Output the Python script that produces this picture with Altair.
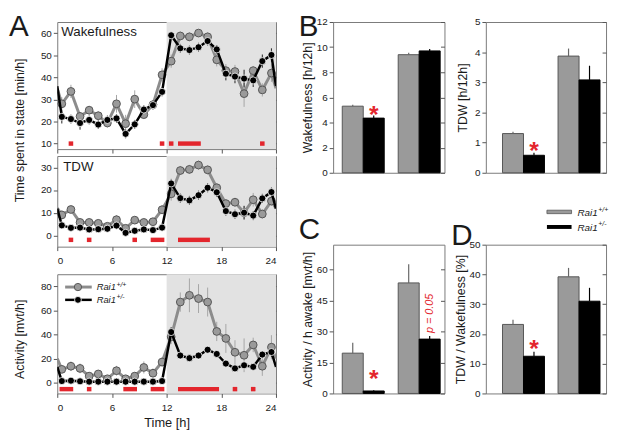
import altair as alt
import pandas as pd

FONT = "Liberation Sans"
RED = "#e3262d"
GRAY_FILL = "#9a9a9a"
GRAY_EDGE = "#555555"
GRAY_LINE = "#8c8c8c"
GRAY_ERR = "#a6a6a6"
SHADE = "#e2e2e2"
GENOS = ["Rai1+/+", "Rai1+/-"]
PHASES = ["Light", "Dark"]

# ---------------- time course data (panel A) ----------------
hours = [0.5, 1.5, 2.5, 3.5, 4.5, 5.5, 6.5, 7.5, 8.5, 9.5, 10.5, 11.5,
         12.5, 13.5, 14.5, 15.5, 16.5, 17.5, 18.5, 19.5, 20.5, 21.5, 22.5, 23.5]
line_edges = [0, 24]
x_ticks = [0, 6, 12, 18, 24]
shade_start = [12]
shade_end = [24]

wake_wt = [28, 33.6, 22.3, 25.1, 22.6, 19.3, 28, 19, 30.1, 23.1, 27.6, 41.1,
           47.3, 58.7, 58.3, 60, 58.3, 47.9, 43, 42.6, 32.6, 43, 34.3, 41.9]
wake_wt_sem = [3, 3, 2, 2, 2, 2, 4, 4, 4, 2, 2, 3,
               3, 2, 2, 1.5, 2, 3, 3, 3, 6, 2, 3, 4]
wake_het = [22.1, 21.1, 19.3, 20.7, 18.6, 20.7, 21.4, 14.4, 18.7, 25.4, 27.4, 33.4,
            59, 53.1, 52.3, 53.6, 56.4, 52.6, 41.6, 40.3, 39.4, 38.6, 47.3, 50.1]
wake_het_sem = [3, 2, 3, 2, 2, 2, 2, 2, 2, 2, 2, 2,
                1.5, 2, 2, 2, 2, 2, 3, 3, 4, 3, 3, 3]
wake_edge = [35, 36]          # value where the lines meet the 0 h / 24 h frame
wake_sig_start = [1.25, 11.25, 12.25, 13.25, 22.25]
wake_sig_end = [1.75, 11.75, 12.75, 15.75, 22.75]
wake_sig_level = 10

tdw_wt = [9, 11.4, 5.7, 5.7, 5.3, 4, 6.9, 3.1, 6.7, 5.7, 6, 11.3,
          18.3, 28.6, 29.1, 31, 28.9, 21, 14, 14.6, 10, 15.7, 9.4, 15.1]
tdw_wt_sem = [2, 1.5, 1, 1, 1, 1, 2, 1.5, 1.5, 1, 1, 2,
              3, 2, 2, 2, 2, 2, 2, 2, 3, 3, 2, 2]
tdw_het = [4.4, 3.3, 3.4, 2.6, 2.7, 2.9, 4.3, 1.1, 2, 2.6, 2.3, 3.4,
           22.9, 16.4, 15.4, 17.7, 21, 19, 10.7, 9.3, 10, 8.7, 16.3, 19.1]
tdw_het_sem = [1, 1, 1, 1, 1, 1, 1.5, 1, 1, 1, 1, 1,
               2, 2, 2, 2, 2, 2, 2, 2, 3, 2, 2, 2]
tdw_edge = [12, 11.8]
tdw_sig_start = [1.25, 3.25, 8.25, 10.25, 13.25]
tdw_sig_end = [1.75, 3.75, 8.75, 11.75, 16.75]
tdw_sig_level = -2

act_wt = [11, 13.6, 11.8, 5.4, 7.2, 3.2, 9.9, 3.2, 5.4, 12.6, 7.8, 17.1,
          38, 66.9, 72.5, 69.8, 66.9, 42.5, 36.7, 25.2, 22.7, 31.3, 13.6, 29.4]
act_wt_sem = [3, 4, 4, 3, 2, 2, 4, 3, 3, 5, 4, 4,
              6, 8, 14, 12, 12, 8, 12, 10, 14, 6, 8, 10]
act_het = [1.3, 1.6, 1.1, 0.8, 0.8, 0.8, 0.8, 0.8, 0.8, 0.8, 0.8, 1.3,
           42, 22.5, 20.3, 22.5, 27.3, 23.8, 15.8, 11.8, 14.4, 13.1, 23.3, 25.4]
act_het_sem = [1, 1, 1, 0.5, 0.5, 0.5, 0.5, 0.5, 0.5, 0.5, 0.5, 1,
               4, 2, 2, 2, 2, 2, 2, 2, 2, 2, 3, 4]
act_edge = [20, 13]
act_sig_start = [0.25, 3.25, 7.25, 10.25, 13.25, 19.25, 21.25]
act_sig_end = [1.75, 3.75, 8.75, 11.75, 17.75, 19.75, 21.75]
act_sig_level = -5.4

# ---------------- 12 h summary data (panels B, C, D) ----------------
wakeB_wt = [5.3, 9.4];   wakeB_wt_sem = [0.12, 0.16]
wakeB_het = [4.35, 9.7]; wakeB_het_sem = [0.2, 0.15]
tdwB_wt = [1.3, 3.87];   tdwB_wt_sem = [0.06, 0.25]
tdwB_het = [0.58, 3.08]; tdwB_het_sem = [0.08, 0.47]
actC_wt = [19.5, 53.5];  actC_wt_sem = [5.0, 9.0]
actC_het = [1.2, 26.3];  actC_het_sem = [0.4, 1.5]
ratD_wt = [23.2, 39.2];  ratD_wt_sem = [1.6, 3.0]
ratD_het = [12.5, 31.0]; ratD_het_sem = [1.5, 4.5]

one = pd.DataFrame({"k": [0]})


def txt(label, x, y, size, color="#1a1a1a", align="left", style="normal",
        weight="normal", angle=0, baseline="alphabetic"):
    return alt.Chart(one).mark_text(
        text=label, align=align, baseline=baseline, fontSize=size, font=FONT,
        color=color, fontStyle=style, fontWeight=weight, angle=angle
    ).encode(x=alt.value(x), y=alt.value(y))


def anchor(x1, x2, y1, y2):
    # invisible box that fixes the layout bounds of a panel
    return alt.Chart(one).mark_rect(fillOpacity=0, strokeOpacity=0).encode(
        x=alt.value(x1), x2=alt.value(x2), y=alt.value(y1), y2=alt.value(y2))


def rai_label(x, y, size, sup, sup_size):
    w = 2.056 * size
    return [txt("Rai1", x, y, size, style="italic"),
            txt(sup, x + w + 0.5, y - size * 0.42, sup_size, style="italic")]


def series_df(vals, sem):
    return pd.DataFrame({"hour": hours, "value": vals,
                         "lo": [v - s for v, s in zip(vals, sem)],
                         "hi": [v + s for v, s in zip(vals, sem)]})


def line_df(vals, edge):
    return pd.DataFrame({"hour": [line_edges[0]] + hours + [line_edges[1]],
                         "value": [edge] + vals + [edge]})


W_A = 222


def time_panel(wt, wt_sem, het, het_sem, edge, sig_s, sig_e, sig_lvl,
               ydomain, yticks, height, labels, xtitle, extra):
    xs = alt.Scale(domain=[0, 24], nice=False)
    ys = alt.Scale(domain=ydomain, nice=False, zero=False)
    xkw = dict(values=x_ticks, tickSize=4, labels=labels, labelPadding=5,
               labelFontSize=10, orient="bottom")
    if xtitle:
        xkw.update(title=xtitle, titlePadding=5, titleFontSize=13)
    else:
        xkw.update(title=None)
    xax = alt.Axis(**xkw)
    yax = alt.Axis(values=yticks, tickSize=4, labelPadding=2, labelFontSize=10,
                   orient="left", title=None)
    yax_r = alt.Axis(orient="right", values=yticks, tickSize=4, labels=False,
                     offset=-4, title=None)

    dwt, dhet = series_df(wt, wt_sem), series_df(het, het_sem)
    lwt, lhet = line_df(wt, edge[0]), line_df(het, edge[1])

    shade = alt.Chart(pd.DataFrame({"start": shade_start, "end": shade_end})).mark_rect(
        color=SHADE).encode(x=alt.X("start:Q", scale=xs, axis=None), x2="end:Q",
                            y=alt.value(0), y2=alt.value(height))

    def err(d, color):
        return alt.Chart(d).mark_rule(color=color, strokeWidth=1, clip=True).encode(
            x=alt.X("hour:Q", scale=xs, axis=None),
            y=alt.Y("lo:Q", scale=ys, axis=None), y2="hi:Q")

    # an invisible carrier layer for the axes (same data as the wild-type line)
    axes_layer = alt.Chart(lwt).mark_point(opacity=0, size=1).encode(
        x=alt.X("hour:Q", scale=xs, axis=xax), y=alt.Y("value:Q", scale=ys, axis=yax))
    line_wt = alt.Chart(lwt).mark_line(color=GRAY_LINE, strokeWidth=3, clip=True).encode(
        x=alt.X("hour:Q", scale=xs, axis=None), y=alt.Y("value:Q", scale=ys, axis=None))
    pts_wt = alt.Chart(dwt).mark_circle(size=62, fill=GRAY_FILL, stroke=GRAY_EDGE,
                                        strokeWidth=1, opacity=1).encode(
        x=alt.X("hour:Q", scale=xs, axis=None), y=alt.Y("value:Q", scale=ys, axis=None))
    line_het = alt.Chart(lhet).mark_line(color="black", strokeWidth=2.5, clip=True).encode(
        x=alt.X("hour:Q", scale=xs, axis=None), y=alt.Y("value:Q", scale=ys, axis=yax_r))
    pts_het = alt.Chart(dhet).mark_circle(size=52, fill="black", stroke="white",
                                         strokeWidth=0.8, opacity=1).encode(
        x=alt.X("hour:Q", scale=xs, axis=None), y=alt.Y("value:Q", scale=ys, axis=None))
    sig = alt.Chart(pd.DataFrame({"start": sig_s, "end": sig_e,
                                  "level": [sig_lvl] * len(sig_s)})).mark_rule(
        color=RED, strokeWidth=4.5, strokeCap="butt").encode(
        x=alt.X("start:Q", scale=xs, axis=None), x2="end:Q",
        y=alt.Y("level:Q", scale=ys, axis=None))

    layers = [axes_layer, shade, err(dwt, GRAY_ERR), err(dhet, "#222222"), line_wt,
              pts_wt, line_het, pts_het, sig] + extra
    return alt.layer(*layers).resolve_axis(x="independent", y="independent").properties(
        width=W_A, height=height)


def bar_panel(wt, wt_sem, het, het_sem, ydomain, yticks, ytitle, tpad, width, height,
              pin, pout, align, ast_dy, extra, pnote=False):
    rows = []
    for i, ph in enumerate(PHASES):
        rows.append({"phase": ph, "geno": GENOS[0], "value": wt[i], "top": wt[i] + wt_sem[i]})
        rows.append({"phase": ph, "geno": GENOS[1], "value": het[i], "top": het[i] + het_sem[i]})
    df = pd.DataFrame(rows)
    xs = alt.Scale(paddingInner=pin, paddingOuter=pout, align=align)
    xos = alt.Scale(domain=GENOS, paddingInner=0, paddingOuter=0)
    ys = alt.Scale(domain=ydomain, nice=False)
    xax = alt.Axis(title=None, labelAngle=0, ticks=False, labelFontSize=13,
                   labelPadding=9, labelColor="#1a1a1a")
    yax = alt.Axis(values=yticks, tickSize=4, labelPadding=2, title=ytitle,
                   titleFontSize=12.5, titlePadding=tpad)
    yax_r = alt.Axis(orient="right", values=yticks, tickSize=4, labels=False,
                     offset=-4, title=None)
    X = alt.X("phase:N", sort=PHASES, scale=xs, axis=xax)
    XN = alt.X("phase:N", sort=PHASES, scale=xs, axis=None)
    XO = alt.XOffset("geno:N", sort=GENOS, scale=xos)
    bars = alt.Chart(df).mark_bar(strokeWidth=1).encode(
        x=X, xOffset=XO, y=alt.Y("value:Q", scale=ys, axis=yax),
        fill=alt.Fill("geno:N", scale=alt.Scale(domain=GENOS, range=[GRAY_FILL, "#000000"]), legend=None),
        stroke=alt.Stroke("geno:N", scale=alt.Scale(domain=GENOS, range=[GRAY_EDGE, "#000000"]), legend=None))
    errs = alt.Chart(df).mark_rule(strokeWidth=1.2).encode(
        x=XN, xOffset=XO, y=alt.Y("value:Q", scale=ys, axis=yax_r), y2="top:Q",
        color=alt.Color("geno:N", scale=alt.Scale(domain=GENOS, range=["#666666", "#000000"]), legend=None))
    star = alt.Chart(df).transform_filter(
        (alt.datum.phase == "Light") & (alt.datum.geno == GENOS[1])).mark_text(
        text="*", fontSize=25, fontWeight="bold", color=RED, font=FONT,
        baseline="alphabetic", dy=ast_dy).encode(
        x=XN, xOffset=XO, y=alt.Y("top:Q", scale=ys, axis=None))
    layers = [bars, errs, star]
    if pnote:
        note = alt.Chart(df).transform_filter(
            (alt.datum.phase == "Dark") & (alt.datum.geno == GENOS[1])).mark_text(
            text="p = 0.05", fontSize=11, fontStyle="italic", color=RED, font=FONT,
            angle=270, align="center", baseline="middle").encode(
            x=XN, xOffset=XO, y=alt.Y("top:Q", scale=ys, axis=None),
            yOffset=alt.value(-23))
        layers.append(note)
    layers += extra
    return alt.layer(*layers).resolve_axis(y="independent").properties(
        width=width, height=height)


# ---------------- panel A ----------------
H_WAKE, H_TDW, H_ACT = 129, 92, 121
wake_extra = [anchor(-49, 230, -10, H_WAKE),
              txt("Wakefulness", 4, 14, 13.5),
              txt("A", -49, 14, 30),
              txt("Time spent in state [min/h]", -38, 110, 12.5, align="center",
                  angle=270, baseline="middle")]
tdw_extra = [anchor(-49, 230, 0, H_TDW + 22), txt("TDW", 6, 15, 13.5)]
leg_wt_line = alt.Chart(one).mark_rule(color=GRAY_LINE, strokeWidth=3).encode(
    x=alt.value(8), x2=alt.value(35), y=alt.value(13))
leg_wt_pt = alt.Chart(one).mark_circle(size=55, fill=GRAY_FILL, stroke=GRAY_EDGE,
                                       strokeWidth=1, opacity=1).encode(
    x=alt.value(21), y=alt.value(13))
leg_het_line = alt.Chart(one).mark_rule(color="black", strokeWidth=2.5).encode(
    x=alt.value(8), x2=alt.value(35), y=alt.value(26))
leg_het_pt = alt.Chart(one).mark_circle(size=48, fill="black", stroke="white",
                                        strokeWidth=0.8, opacity=1).encode(
    x=alt.value(21), y=alt.value(26))
act_extra = [anchor(-49, 230, 0, H_ACT + 42), leg_wt_line, leg_wt_pt, leg_het_line,
             leg_het_pt,
             txt("Activity [mvt/h]", -38, 66, 12.5, align="center", angle=270,
                 baseline="middle")] + \
    rai_label(40, 16.5, 9.5, "+/+", 7) + rai_label(40, 29.5, 9.5, "+/-", 7)

wake = time_panel(wake_wt, wake_wt_sem, wake_het, wake_het_sem, wake_edge,
                  wake_sig_start, wake_sig_end, wake_sig_level,
                  [7.5, 65], [10, 20, 30, 40, 50, 60], H_WAKE, False, None, wake_extra)
tdw = time_panel(tdw_wt, tdw_wt_sem, tdw_het, tdw_het_sem, tdw_edge,
                 tdw_sig_start, tdw_sig_end, tdw_sig_level,
                 [-5, 35], [0, 10, 20, 30], H_TDW, True, None, tdw_extra)
act = time_panel(act_wt, act_wt_sem, act_het, act_het_sem, act_edge,
                 act_sig_start, act_sig_end, act_sig_level,
                 [-9, 90], [0, 20, 40, 60, 80], H_ACT, True, "Time [h]", act_extra)

# ---------------- panels B, C, D ----------------
H_B, H_C = 153, 151
WB1, WB2 = 113, 122
legD = [alt.Chart(one).mark_rect(fill=GRAY_FILL, stroke=GRAY_EDGE, strokeWidth=0.8).encode(
            x=alt.value(62), x2=alt.value(87), y=alt.value(-35), y2=alt.value(-31.5)),
        alt.Chart(one).mark_rect(fill="black").encode(
            x=alt.value(62), x2=alt.value(87), y=alt.value(-20), y2=alt.value(-16))] + \
    rai_label(93, -29.3, 10, "+/+", 7) + rai_label(93, -14.3, 10, "+/-", 7)

bw = bar_panel(wakeB_wt, wakeB_wt_sem, wakeB_het, wakeB_het_sem, [0, 12],
               [0, 2, 4, 6, 8, 10, 12], "Wakefulness [h/12h]", 2, WB1, H_B,
               0.25, 0.12, 0.68, 7.7,
               [anchor(-36, WB1, -10, H_B + 30), txt("B", -35, 14, 30)])
bt = bar_panel(tdwB_wt, tdwB_wt_sem, tdwB_het, tdwB_het_sem, [0, 5],
               [0, 1, 2, 3, 4, 5], "TDW [h/12h]", 5, WB2, H_B,
               0.236, 0.2, 0.75, 6.4, [anchor(0, WB2, -10, H_B + 30)])
bc = bar_panel(actC_wt, actC_wt_sem, actC_het, actC_het_sem, [0, 72],
               [0, 15, 30, 45, 60], "Activity / h awake [mvt/h]", 2, WB1, H_C,
               0.25, 0.12, 0.68, -3,
               [anchor(-36, WB1, -40, H_C), txt("C", -35, -5.5, 30)], pnote=True)
bd = bar_panel(ratD_wt, ratD_wt_sem, ratD_het, ratD_het_sem, [0, 50],
               [0, 10, 20, 30, 40, 50], "TDW / Wakefulness [%]", 2, WB2, H_C,
               0.236, 0.2, 0.75, 5.2,
               [anchor(0, WB2, -40, H_C), txt("D", -35, 0.5, 30)] + legD)

left = alt.vconcat(alt.vconcat(wake, tdw, spacing=7, bounds="flush"), act,
                   spacing=4)
right = alt.vconcat(alt.hconcat(bw, bt, spacing=42, bounds="flush"),
                    alt.hconcat(bc, bd, spacing=42, bounds="flush"),
                    spacing=1)

chart = alt.hconcat(left, right, spacing=12).properties(
    padding=0, background="white"
).configure_view(stroke="#7a7a7a", strokeWidth=1).configure_axis(
    labelFont=FONT, titleFont=FONT, labelFontSize=10, titleFontSize=13,
    titleFontWeight="normal", labelColor="#1a1a1a", titleColor="#1a1a1a",
    tickColor="#555555", tickWidth=1, grid=False, domain=False
).configure_text(font=FONT).configure_concat(spacing=0)

chart.save("out.html", embed_options={"renderer": "svg", "actions": False})
